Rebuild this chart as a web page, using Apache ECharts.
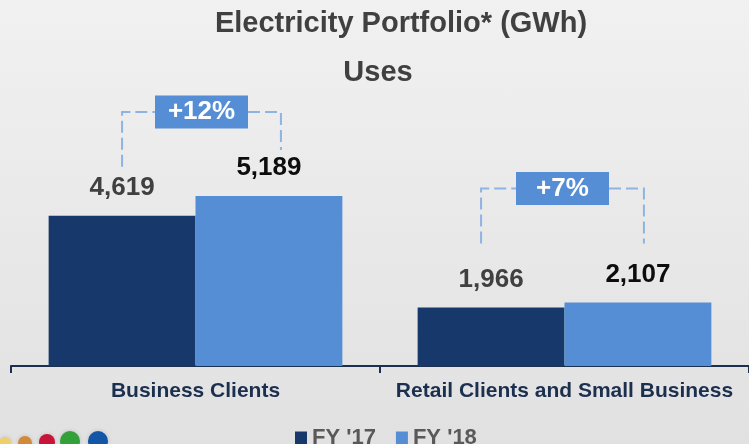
<!DOCTYPE html>
<html>
<head>
<meta charset="utf-8">
<script src="https://cdn.jsdelivr.net/npm/echarts@6/dist/echarts.min.js"></script>
<style>
  html, body { margin: 0; padding: 0; }
  #chart {
    width: 749px;
    height: 444px;
    background: linear-gradient(to bottom, #f1f1f1 0%, #e9e9e9 50%, #e1e1e1 100%);
  }
</style>
</head>
<body>
<div id="chart"></div>
<script>
// data
const categories = ['Business Clients', 'Retail Clients and Small Business'];
const seriesNames = ["FY '17", "FY '18"];
const fy17 = [4619, 1966];
const fy18 = [5189, 2107];
const growthLabels = ['+12%', '+7%'];

// bracket tweaks in px, relative to the bars: [leftDx, rightDx, topAboveTallBar, leftGap, rightGap]
const bracketOffsets = [
  [0, 12, 84, 49, 46],
  [-10, 6, 114, 64, 59]
];

const FONT = '"Liberation Sans", Arial, sans-serif';
const fmt = v => v.toLocaleString('en-US');

const chart = echarts.init(document.getElementById('chart'));

const option = {
  backgroundColor: 'transparent',
  animation: false,
  textStyle: { fontFamily: FONT },
  grid: { left: 11, top: 168, width: 743, height: 198 },
  legend: {
    data: seriesNames,
    left: 290,
    top: 422,
    icon: 'rect',
    itemWidth: 12,
    itemHeight: 13,
    itemGap: 20,
    textStyle: { fontSize: 22, fontWeight: 'bold', color: '#595959', fontFamily: FONT }
  },
  xAxis: {
    type: 'category',
    data: categories,
    axisLine: { lineStyle: { color: '#1b2f4e', width: 2 } },
    axisTick: { show: true, length: 7, lineStyle: { color: '#1b2f4e', width: 2 } },
    axisLabel: {
      interval: 0,
      margin: 15,
      fontSize: 21,
      fontWeight: 'bold',
      color: '#1b2f4e',
      fontFamily: FONT
    }
  },
  yAxis: {
    type: 'value',
    min: 270,
    max: 6000,
    show: false,
    splitLine: { show: false }
  },
  series: [
    {
      name: seriesNames[0],
      type: 'bar',
      data: fy17,
      barGap: 0,
      barCategoryGap: '20.4%',
      itemStyle: { color: '#17386a' },
      label: {
        show: true,
        position: 'top',
        distance: 15,
        formatter: p => fmt(p.value),
        fontSize: 26,
        fontWeight: 'bold',
        color: '#404040',
        fontFamily: FONT
      }
    },
    {
      name: seriesNames[1],
      type: 'bar',
      data: fy18,
      itemStyle: { color: '#558ed5' },
      label: {
        show: true,
        position: 'top',
        distance: 15,
        formatter: p => fmt(p.value),
        fontSize: 26,
        fontWeight: 'bold',
        color: '#0d0d0d',
        fontFamily: FONT
      }
    }
  ]
};

chart.setOption(option);

// titles, growth brackets and logo dots
function buildGraphics() {
  const model = chart.getModel();
  const d17 = model.getSeriesByIndex(0).getData();
  const d18 = model.getSeriesByIndex(1).getData();
  const els = [
    {
      type: 'text', x: 401, y: 24,
      style: { text: 'Electricity Portfolio* (GWh)', fill: '#404040', font: 'bold 29px ' + FONT, textAlign: 'center', textVerticalAlign: 'middle' }
    },
    {
      type: 'text', x: 378, y: 73,
      style: { text: 'Uses', fill: '#404040', font: 'bold 29px ' + FONT, textAlign: 'center', textVerticalAlign: 'middle' }
    }
  ];
  const dash = { stroke: '#8db4e2', lineWidth: 2, lineDash: [12, 5], fill: null };
  growthLabels.forEach((txt, i) => {
    const a = d17.getItemLayout(i);
    const b = d18.getItemLayout(i);
    const o = bracketOffsets[i];
    const topA = Math.min(a.y, a.y + a.height);
    const topB = Math.min(b.y, b.y + b.height);
    const xL = a.x + a.width / 2 + o[0];
    const xR = b.x + b.width / 2 + o[1];
    const yT = Math.min(topA, topB) - o[2];
    const xM = (xL + xR) / 2;
    const boxW = 93, boxH = 33;
    els.push({
      type: 'polyline', silent: true,
      shape: { points: [[xL, topA - o[3]], [xL, yT], [xM - boxW / 2, yT]] },
      style: dash
    });
    els.push({
      type: 'polyline', silent: true,
      shape: { points: [[xM + boxW / 2, yT], [xR, yT], [xR, topB - o[4]]] },
      style: dash
    });
    els.push({
      type: 'rect', silent: true,
      shape: { x: xM - boxW / 2, y: yT - boxH / 2, width: boxW, height: boxH },
      style: { fill: '#558ed5' }
    });
    els.push({
      type: 'text', silent: true, x: xM, y: yT,
      style: { text: txt, fill: '#ffffff', font: 'bold 26px ' + FONT, textAlign: 'center', textVerticalAlign: 'middle' }
    });
  });
  const dots = [
    [5, 443, 6, '#efcf6a'],
    [25, 443, 7, '#d2893a'],
    [47, 442, 8, '#c8143a'],
    [70, 441, 10, '#34a03a'],
    [98, 441, 10, '#1456a6']
  ];
  dots.forEach(d => {
    els.push({
      type: 'circle', silent: true,
      shape: { cx: d[0], cy: d[1], r: d[2] },
      style: { fill: d[3], shadowBlur: 4, shadowColor: 'rgba(0,0,0,0.15)' }
    });
  });
  chart.setOption({ graphic: els });
}

buildGraphics();
</script>
</body>
</html>
